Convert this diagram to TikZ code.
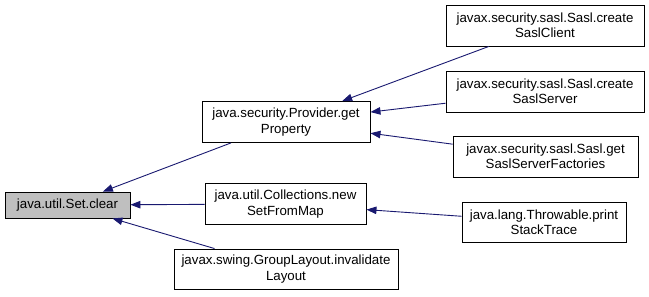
\documentclass[tikz,border=0pt]{standalone}
\usepackage{fontspec}
\setmainfont{Liberation Sans}
\usetikzlibrary{arrows.meta}
\definecolor{edgeblue}{HTML}{191970}
\definecolor{focusgrey}{HTML}{BFBFBF}
\begin{document}
\begin{tikzpicture}[x=1bp,y=-1bp,
  fn/.style={draw=black, line width=0.9bp, fill=white, inner sep=0pt,
    align=center, font=\fontsize{13.33}{15.5}\selectfont},
  focus/.style={fn, fill=focusgrey},
  calls/.style={draw=edgeblue, line width=0.9bp,
    -{Triangle[length=10bp,width=7.5bp]}}]
\useasboundingbox (0,0) rectangle (649,296);

% the method whose callers are shown
\node[focus, minimum width=125bp, minimum height=26bp] (clear) at (67.5,205) {java.util.Set.clear};

% direct callers
\node[fn, minimum width=168bp, minimum height=41bp] (getprop) at (286,122)
  {java.security.Provider.get\\Property};
\node[fn, minimum width=161bp, minimum height=41bp] (setmap) at (285.5,204)
  {java.util.Collections.new\\SetFromMap};
\node[fn, minimum width=224bp, minimum height=40bp] (invalid) at (286,269)
  {javax.swing.GroupLayout.invalidate\\Layout};

% second-level callers
\node[fn, minimum width=198bp, minimum height=41bp] (client) at (545,25.5)
  {javax.security.sasl.Sasl.create\\SaslClient};
\node[fn, minimum width=198bp, minimum height=41bp] (server) at (545,91.5)
  {javax.security.sasl.Sasl.create\\SaslServer};
\node[fn, minimum width=185bp, minimum height=41bp] (factories) at (545.5,156.5)
  {javax.security.sasl.Sasl.get\\SaslServerFactories};
\node[fn, minimum width=164bp, minimum height=40bp] (trace) at (544,222)
  {java.lang.Throwable.print\\StackTrace};

% call edges
\draw[calls] (getprop) -- (clear);
\draw[calls] (setmap) -- (clear);
\draw[calls] ([xshift=41bp]invalid.north west) -- ([xshift=-18bp]clear.south east);
\draw[calls] (client) -- (getprop);
\draw[calls] (server) -- (getprop);
\draw[calls] (factories) -- (getprop);
\draw[calls] (trace) -- (setmap);
\end{tikzpicture}
\end{document}
